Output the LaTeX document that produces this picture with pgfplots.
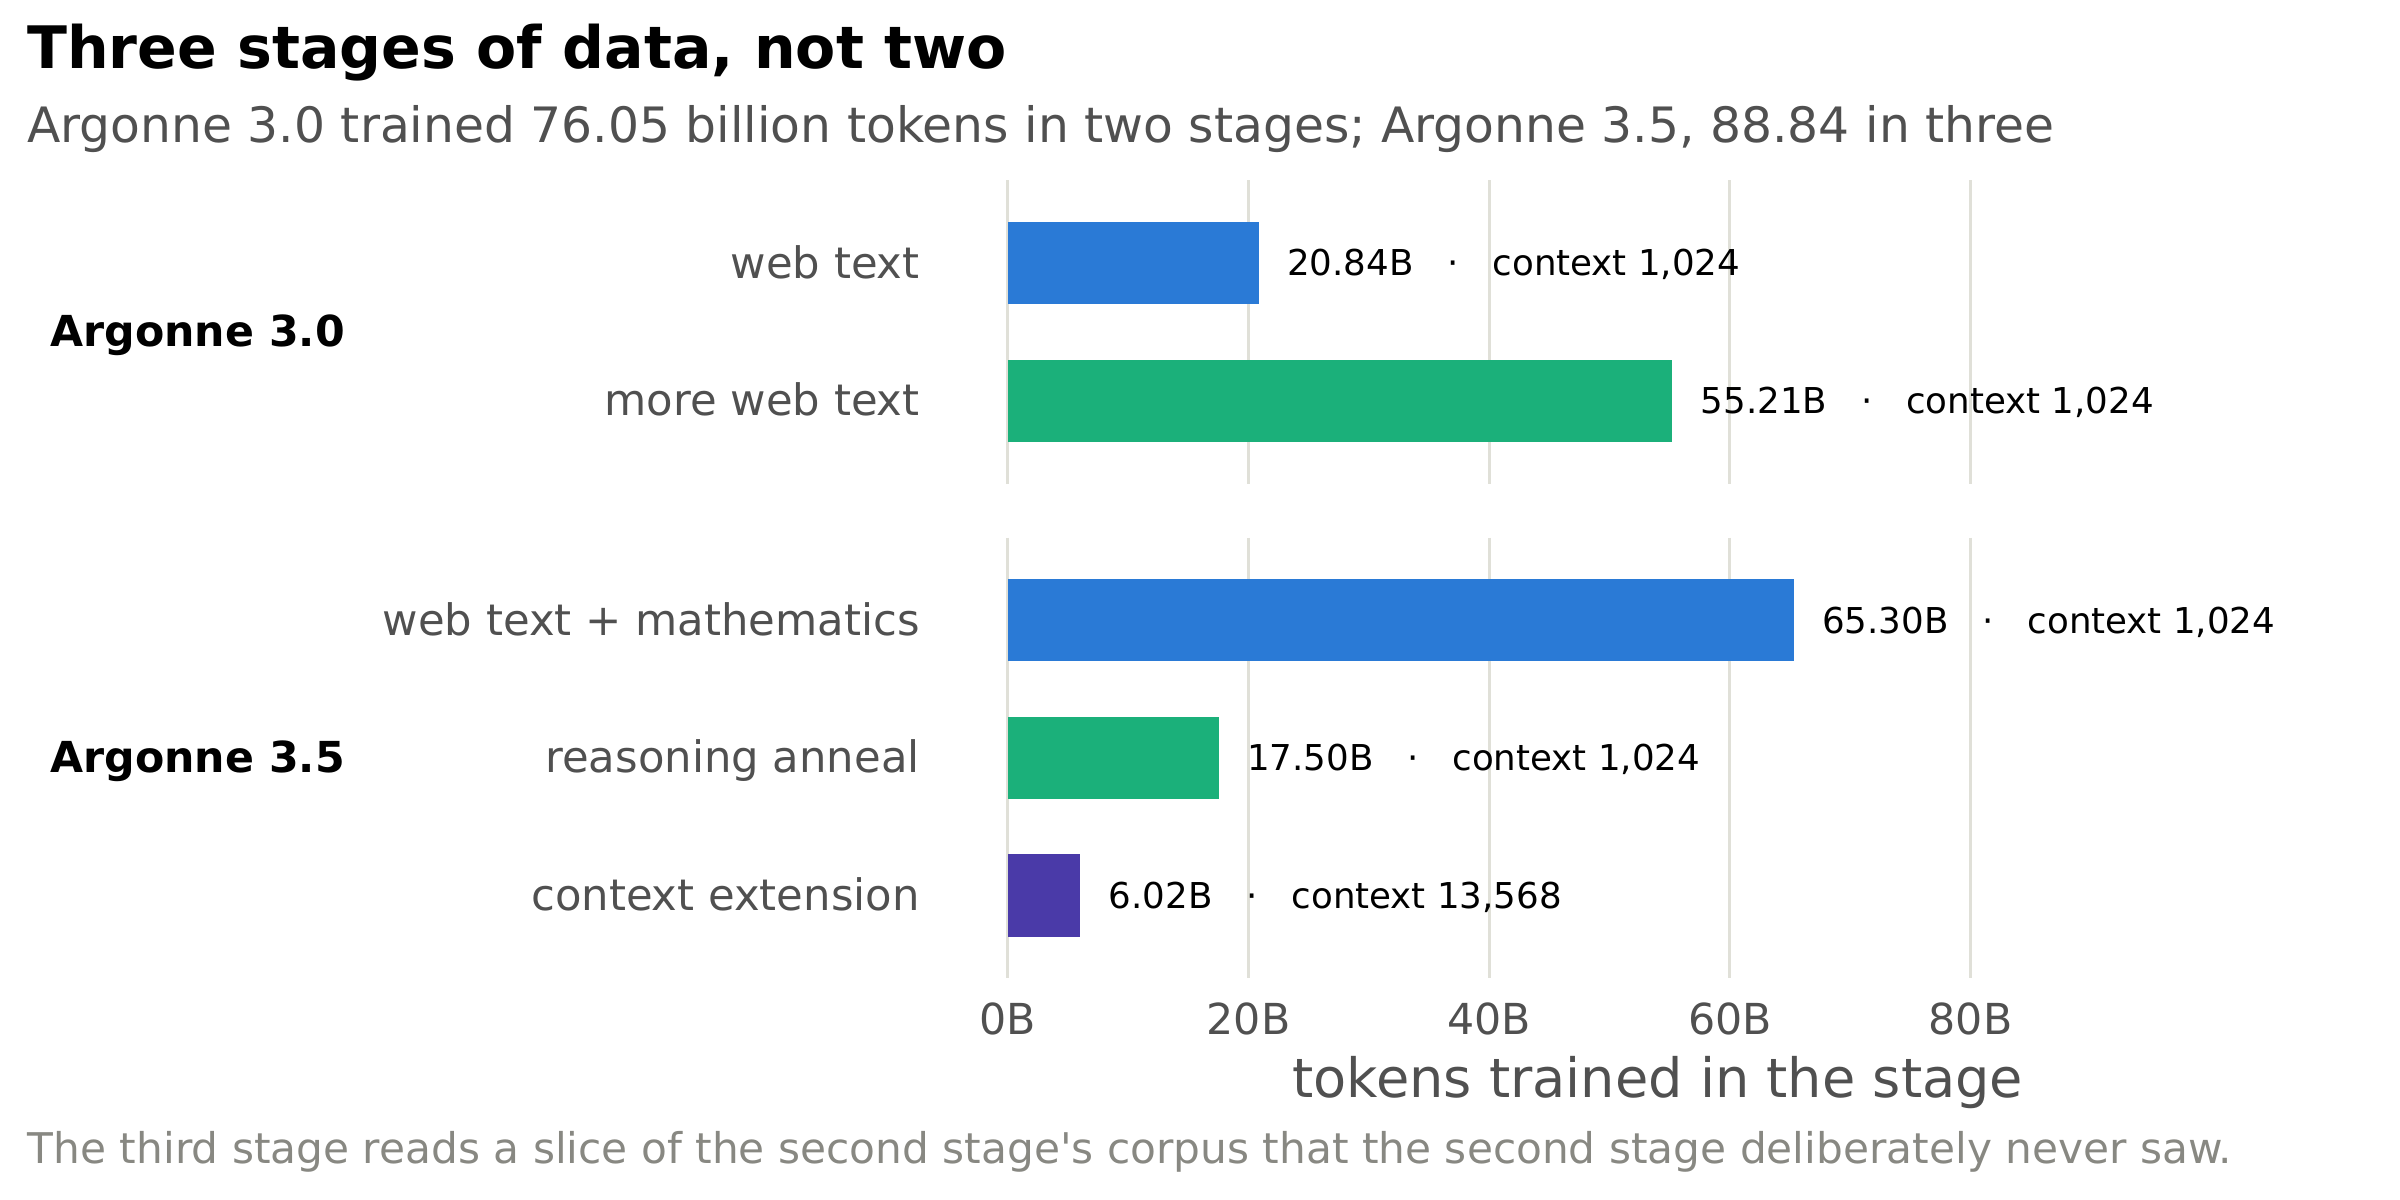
\documentclass[border=0pt]{standalone}
\usepackage{fontspec}
\setmainfont{DejaVu Sans}
\usepackage{pgfplots}
\pgfplotsset{compat=1.18}

\definecolor{cblue}{RGB}{42,122,214}
\definecolor{cgreen}{RGB}{27,176,122}
\definecolor{cpurple}{RGB}{74,58,168}
\definecolor{gridc}{RGB}{224,224,216}
\definecolor{labgray}{RGB}{80,80,80}
\definecolor{footgray}{RGB}{136,136,130}

\newcommand\sep{\hspace{0.95em}·\hspace{0.95em}}
\newcommand\labfont{\fontsize{20.5}{24}\selectfont}

\pgfplotsset{
  panel/.style={
    scale only axis,
    anchor=north west,
    width=623.8pt,
    xmin=0, xmax=108,
    y dir=reverse,
    xbar, bar width=0.6,
    axis line style={draw=none},
    major tick length=0pt,
    tick style={draw=none},
    xtick={0,20,40,60,80},
    xmajorgrids,
    major grid style={draw=gridc, line width=1.5pt},
    yticklabel style={anchor=base east, inner sep=0pt, xshift=-42.2pt,
      yshift=-7.2pt, text=labgray, font=\fontsize{20.8}{24}\selectfont},
    nodes near coords style={anchor=base west, inner sep=0pt, xshift=13.5pt,
      yshift=-6.2pt, font=\fontsize{17.1}{20}\selectfont, text=black},
    clip=false,
  },
}

\begin{document}
\begin{tikzpicture}
\useasboundingbox (0,0) rectangle (1152pt,576pt);

\node[anchor=base west, inner sep=0pt, font=\bfseries\fontsize{28.1}{34}\selectfont]
  at (12.9pt,542.9pt) {Three stages of data, not two};
\node[anchor=base west, inner sep=0pt, text=labgray, font=\fontsize{23.4}{28}\selectfont]
  at (12.9pt,507.4pt) {Argonne 3.0 trained 76.05 billion tokens in two stages; Argonne 3.5, 88.84 in three};

% Argonne 3.0
\begin{axis}[panel,
    at={(483.8pt,489.4pt)}, height=145.5pt,
    ymin=-0.6, ymax=1.6,
    ytick={0,1}, yticklabels={web text, more web text},
    xticklabels={},
  ]
\addplot[fill=cblue, draw=none, bar shift=0pt,
  nodes near coords={20.84B\sep context 1,024}] coordinates {(20.84,0)};
\addplot[fill=cgreen, draw=none, bar shift=0pt,
  nodes near coords={55.21B\sep context 1,024}] coordinates {(55.21,1)};
\end{axis}

% Argonne 3.5
\begin{axis}[panel,
    at={(483.8pt,318pt)}, height=211.6pt,
    ymin=-0.6, ymax=2.6,
    ytick={0,1,2},
    yticklabels={web text + mathematics, reasoning anneal, context extension},
    xticklabels={0B,20B,40B,60B,80B},
    xticklabel style={anchor=base, yshift=-27pt, text=labgray, font=\labfont},
    xlabel={tokens trained in the stage},
    xlabel style={at={(rel axis cs:0.5,0)}, anchor=base, yshift=-57pt,
      text=labgray, font=\fontsize{26}{30}\selectfont},
  ]
\addplot[fill=cblue, draw=none, bar shift=0pt,
  nodes near coords={65.30B\sep context 1,024}] coordinates {(65.30,0)};
\addplot[fill=cgreen, draw=none, bar shift=0pt,
  nodes near coords={17.50B\sep context 1,024}] coordinates {(17.50,1)};
\addplot[fill=cpurple, draw=none, bar shift=0pt,
  nodes near coords={6.02B\sep context 13,568}] coordinates {(6.02,2)};
\end{axis}

\node[anchor=base west, inner sep=0pt, font=\bfseries\labfont]
  at (24pt,409.9pt) {Argonne 3.0};
\node[anchor=base west, inner sep=0pt, font=\bfseries\labfont]
  at (24pt,205.4pt) {Argonne 3.5};

\node[anchor=base west, inner sep=0pt, text=footgray, font=\fontsize{20.3}{24}\selectfont]
  at (13.2pt,17.3pt) {The third stage reads a slice of the second stage\textquotesingle s corpus that the second stage deliberately never saw.};
\end{tikzpicture}
\end{document}
